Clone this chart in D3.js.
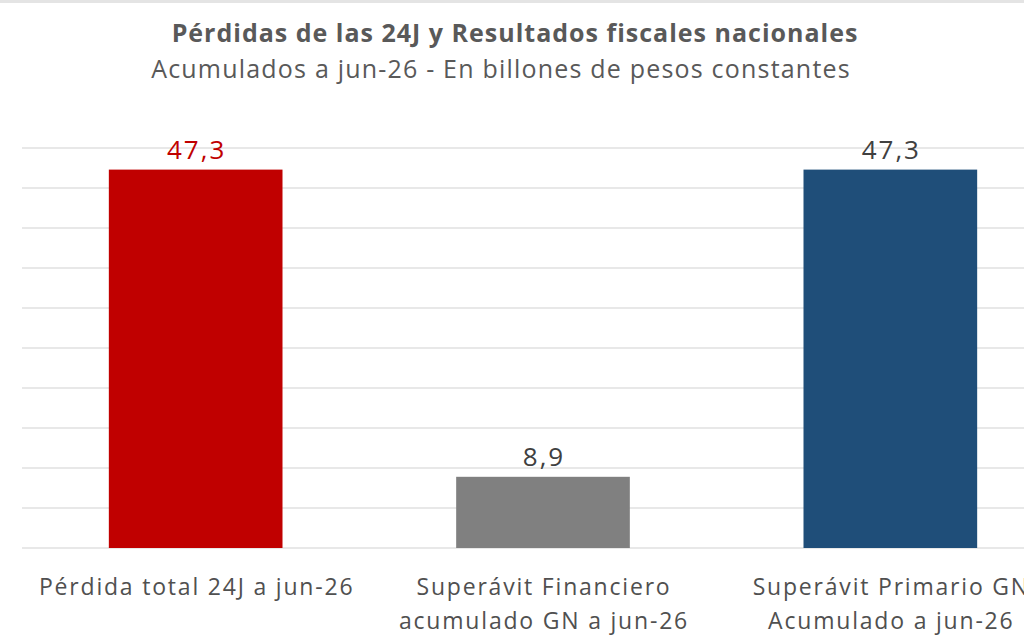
<!doctype html>
<html>
<head>
<meta charset="utf-8"/>
<title>Pérdidas de las 24J</title>
<script src="https://d3js.org/d3.v7.min.js"></script>
<style>
  body { margin: 0; background: #fff; }
  text { font-family: "Open Sans", sans-serif; }
</style>
</head>
<body>
<div id="chart"></div>
<script>
  // datos
  var categorias = [
    ["Pérdida total 24J a jun-26"],
    ["Superávit Financiero", "acumulado GN a jun-26"],
    ["Superávit Primario GN", "Acumulado a jun-26"]
  ];
  var valores = [47.3, 8.9, 47.3];
  var etiquetas = ["47,3", "8,9", "47,3"];
  var colores = ["#c00000", "#808080", "#1f4e79"];
  var colorEtiqueta = ["#c00000", "#404040", "#404040"];
  var ticks = [0, 5, 10, 15, 20, 25, 30, 35, 40, 45, 50];

  var ancho = 1024, alto = 640;

  var svg = d3.select("#chart")
    .append("svg")
    .attr("width", ancho)
    .attr("height", alto);

  // borde superior tenue
  svg.append("line")
    .attr("x1", 0).attr("x2", ancho)
    .attr("y1", 1.5).attr("y2", 1.5)
    .attr("stroke", "#e4e4e4")
    .attr("stroke-width", 3);

  svg.append("text")
    .attr("x", 515).attr("y", 42)
    .attr("text-anchor", "middle")
    .attr("font-size", 25)
    .attr("letter-spacing", 1)
    .attr("font-weight", "bold")
    .attr("fill", "#595959")
    .text("Pérdidas de las 24J y Resultados fiscales nacionales");

  svg.append("text")
    .attr("x", 501).attr("y", 78)
    .attr("text-anchor", "middle")
    .attr("font-size", 25)
    .attr("letter-spacing", 1.2)
    .attr("fill", "#595959")
    .text("Acumulados a jun-26 - En billones de pesos constantes");

  var x = d3.scaleBand()
    .domain(d3.range(valores.length))
    .range([22, 1064])
    .paddingInner(0.5)
    .paddingOuter(0.25);

  var y = d3.scaleLinear()
    .domain([0, 50])
    .range([548, 148]);

  // lineas de grilla
  svg.append("g")
    .selectAll("line")
    .data(ticks)
    .enter().append("line")
    .attr("x1", 22)
    .attr("x2", ancho)
    .attr("y1", function(d) { return y(d); })
    .attr("y2", function(d) { return y(d); })
    .attr("stroke", "#e0e0e0")
    .attr("stroke-width", 1.5);

  // barras
  svg.append("g")
    .selectAll("rect")
    .data(valores)
    .enter().append("rect")
    .attr("x", function(d, i) { return x(i); })
    .attr("y", function(d) { return y(d); })
    .attr("width", x.bandwidth())
    .attr("height", function(d) { return y(0) - y(d); })
    .attr("fill", function(d, i) { return colores[i]; });

  // etiquetas de valor
  svg.append("g")
    .selectAll("text")
    .data(valores)
    .enter().append("text")
    .attr("x", function(d, i) { return x(i) + x.bandwidth() / 2 + 1; })
    .attr("y", function(d) { return y(d) - 11; })
    .attr("text-anchor", "middle")
    .attr("font-size", 26)
    .attr("letter-spacing", 2)
    .attr("fill", function(d, i) { return colorEtiqueta[i]; })
    .text(function(d, i) { return etiquetas[i]; });

  // etiquetas de categoria
  var cat = svg.append("g")
    .selectAll("text")
    .data(categorias)
    .enter().append("text")
    .attr("x", function(d, i) { return x(i) + x.bandwidth() / 2 + 1; })
    .attr("y", 595)
    .attr("text-anchor", "middle")
    .attr("font-size", 23)
    .attr("letter-spacing", 1.8)
    .attr("fill", "#505050");

  cat.selectAll("tspan")
    .data(function(d) { return d; })
    .enter().append("tspan")
    .attr("x", function() { return d3.select(this.parentNode).attr("x"); })
    .attr("dy", function(d, i) { return i === 0 ? 0 : 34; })
    .text(function(d) { return d; });
</script>
</body>
</html>
